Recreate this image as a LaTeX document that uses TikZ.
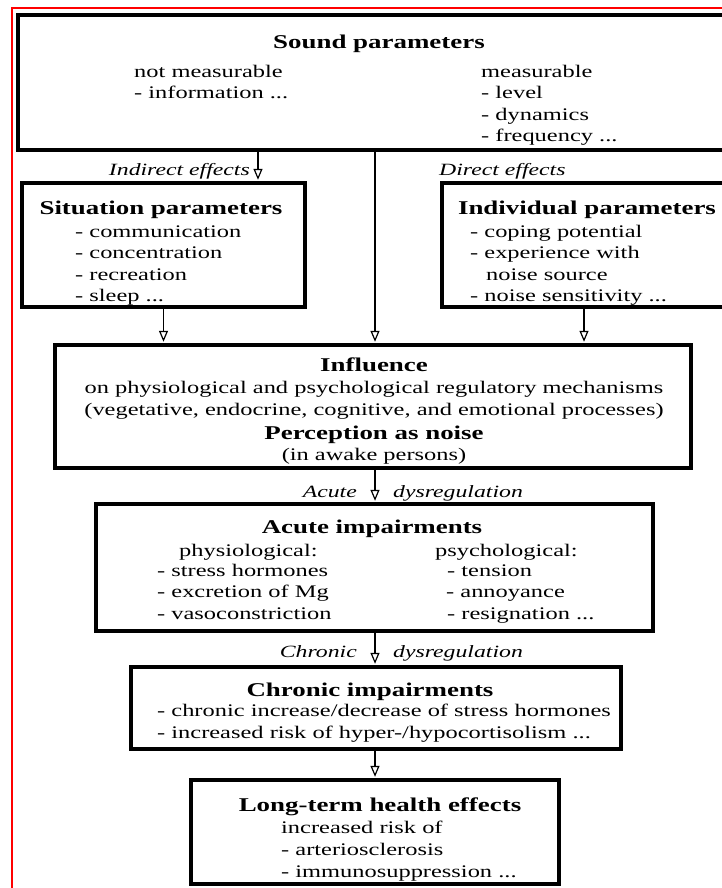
\documentclass[tikz,border=0pt]{standalone}
\usepackage{fontspec}
\setmainfont{Liberation Serif}[FakeStretch=1.38]
\usetikzlibrary{arrows.meta}
\begin{document}
\begin{tikzpicture}[x=1pt,y=-1pt,
  box/.style={draw=black, line width=3.2pt, inner sep=0pt},
  arr/.style={line width=1.6pt, shorten >=1.6pt, -{Triangle[open, length=11pt, width=9pt, line width=1.2pt]}},
  tb/.style={inner sep=0pt, font=\fontsize{17.7}{21}\selectfont},
  tt/.style={inner sep=0pt, font=\fontsize{19.5}{23}\selectfont\bfseries},
  ti/.style={inner sep=0pt, font=\fontsize{17.2}{21}\selectfont\itshape},
  frame/.style={draw=red, line width=2.6pt},
]
\path[use as bounding box, clip] (0,0) rectangle (722,888);
\fill[white] (0,0) rectangle (722,888);
\draw[frame] (12,890) -- (12,8) -- (724,8);

% boxes
\node[box, minimum width=708pt, minimum height=135pt] (sound) at (372,82.5) {};
\node[box, minimum width=283pt, minimum height=124pt] (situation) at (163.5,245) {};
\node[box, minimum width=284pt, minimum height=124pt] (individual) at (584,245) {};
\node[box, minimum width=636pt, minimum height=123pt] (influence) at (373,406.5) {};
\node[box, minimum width=557pt, minimum height=127pt] (acute) at (374.5,567.5) {};
\node[box, minimum width=490pt, minimum height=82pt] (chronic) at (376,708) {};
\node[box, minimum width=368pt, minimum height=104pt] (longterm) at (375,832) {};

\coordinate (ia) at (258,0);
\coordinate (mid) at (375,0);

% connectors
\draw[arr] (sound.south -| ia) -- (situation.north -| ia);
\draw[arr] (sound.south -| mid) -- (influence.north -| mid);
\draw[arr] (situation.south) -- (influence.north -| situation.south);
\draw[arr] (individual.south) -- (influence.north -| individual.south);
\draw[arr] (influence.south -| mid) -- (acute.north -| mid);
\draw[arr] (acute.south -| mid) -- (chronic.north -| mid);
\draw[arr] (chronic.south -| mid) -- (longterm.north -| mid);

% sound parameters
\node[tt, anchor=base] (s0) at (379,48.5) {Sound parameters};
\node[tb, anchor=base west] (s1) at (134,78) {not measurable};
\node[tb, anchor=base west] (s2) at (134,99) {- information ...};
\node[tb, anchor=base west] (s3) at (481,78) {measurable};
\node[tb, anchor=base west] (s4) at (481,99) {- level};
\node[tb, anchor=base west] (s5) at (481,121) {- dynamics};
\node[tb, anchor=base west] (s6) at (481,142) {- frequency ...};

% effect labels
\node[ti, anchor=base east] (l1) at (250,175) {Indirect effects};
\node[ti, anchor=base west] (l2) at (439,175) {Direct effects};

% situation
\node[tt, anchor=base] (a0) at (161,214) {Situation parameters};
\node[tb, anchor=base west] (a1) at (75,237) {- communication};
\node[tb, anchor=base west] (a2) at (75,258) {- concentration};
\node[tb, anchor=base west] (a3) at (75,280) {- recreation};
\node[tb, anchor=base west] (a4) at (75,301) {- sleep ...};

% individual
\node[tt, anchor=base] (b0) at (587,214) {Individual parameters};
\node[tb, anchor=base west] (b1) at (470,237) {- coping potential};
\node[tb, anchor=base west] (b2) at (470,258) {- experience with};
\node[tb, anchor=base west] (b3) at (486,280) {noise source};
\node[tb, anchor=base west] (b4) at (470,301) {- noise sensitivity ...};

% influence
\node[tt, anchor=base] (c0) at (374,371) {Influence};
\node[tb, anchor=base] (c1) at (374,393) {on physiological and psychological regulatory mechanisms};
\node[tb, anchor=base] (c2) at (374,415) {(vegetative, endocrine, cognitive, and emotional processes)};
\node[tt, anchor=base] (c3) at (374,439) {Perception as noise};
\node[tb, anchor=base] (c4) at (374,460) {(in awake persons)};

% acute dysregulation
\node[ti, anchor=base east] (l3) at (357,497) {Acute};
\node[ti, anchor=base west] (l4) at (393,497) {dysregulation};

% acute impairments
\node[tt, anchor=base] (d0) at (372,533) {Acute impairments};
\node[tb, anchor=base west] (d1) at (179,556) {physiological:};
\node[tb, anchor=base west] (d2) at (157,576) {- stress hormones};
\node[tb, anchor=base west] (d3) at (157,597) {- excretion of Mg};
\node[tb, anchor=base west] (d4) at (157,619) {- vasoconstriction};
\node[tb, anchor=base west] (d5) at (435,556) {psychological:};
\node[tb, anchor=base west] (d6) at (447,576) {- tension};
\node[tb, anchor=base west] (d7) at (446,597) {- annoyance};
\node[tb, anchor=base west] (d8) at (447,619) {- resignation ...};

% chronic dysregulation
\node[ti, anchor=base east] (l5) at (357,657) {Chronic};
\node[ti, anchor=base west] (l6) at (393,657) {dysregulation};

% chronic impairments
\node[tt, anchor=base] (e0) at (370,696) {Chronic impairments};
\node[tb, anchor=base west] (e1) at (157,716) {- chronic increase/decrease of stress hormones};
\node[tb, anchor=base west] (e2) at (157,738) {- increased risk of hyper-/hypocortisolism ...};

% long-term
\node[tt, anchor=base] (f0) at (380,811) {Long-term health effects};
\node[tb, anchor=base west] (f1) at (281,833) {increased risk of};
\node[tb, anchor=base west] (f2) at (281,855) {- arteriosclerosis};
\node[tb, anchor=base west] (f3) at (281,877) {- immunosuppression ...};
\end{tikzpicture}
\end{document}
